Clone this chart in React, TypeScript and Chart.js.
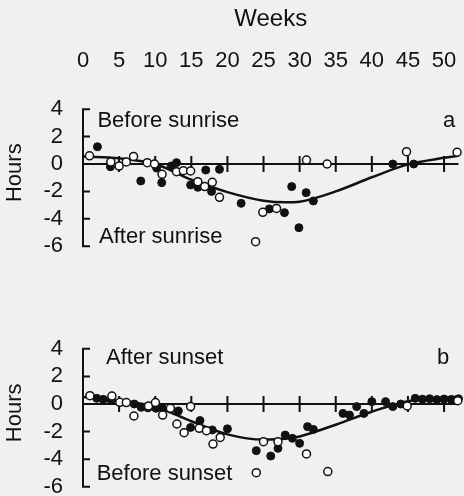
import React, { useEffect, useRef } from 'react';
import { Chart, registerables } from 'chart.js';

Chart.register(...registerables);

// ---------- data ----------
const WEEK_TICKS = [0, 5, 10, 15, 20, 25, 30, 35, 40, 45, 50];
const HOUR_TICKS = [4, 2, 0, -2, -4, -6];
const X_MIN = 0;
const X_MAX = 52;
const Y_MIN = -6;
const Y_MAX = 4;

// Panel a: sunrise
const SUNRISE_FILLED_WEEKS = [2.0, 3.8, 8.0, 10.2, 10.9, 12.2, 12.95, 14.9, 15.9, 17.0, 17.8, 18.9, 21.9, 25.8, 27.9, 28.9, 29.9, 30.9, 31.9, 42.9, 45.8];
const SUNRISE_FILLED_HOURS = [1.26, -0.2, -1.24, -0.3, -1.36, -0.15, 0.1, -1.53, -1.7, -0.44, -2.0, -0.39, -2.87, -3.28, -3.55, -1.65, -4.65, -2.09, -2.7, 0.0, 0.0];
const SUNRISE_OPEN_WEEKS = [0.9, 3.85, 5.0, 6.0, 7.0, 8.9, 9.9, 10.95, 12.95, 13.9, 14.9, 15.9, 16.85, 17.9, 18.9, 23.9, 24.9, 26.8, 30.95, 33.8, 44.8, 51.8];
const SUNRISE_OPEN_HOURS = [0.6, 0.15, -0.15, 0.15, 0.55, 0.1, 0.0, -0.75, -0.56, -0.49, -0.51, -1.29, -1.65, -1.34, -2.43, -5.67, -3.53, -3.24, 0.29, 0.0, 0.9, 0.85];
const SUNRISE_CURVE_WEEKS = [0, 5, 10, 15, 20, 25, 28, 30, 35, 40, 45, 50, 52];
const SUNRISE_CURVE_HOURS = [0.55, 0.42, 0.0, -1.15, -2.05, -2.68, -2.8, -2.75, -2.0, -0.97, -0.03, 0.45, 0.6];

// Panel b: sunset
const SUNSET_FILLED_WEEKS = [1.9, 2.8, 3.9, 7.1, 8.06, 9.0, 10.1, 11.0, 13.2, 14.9, 16.2, 17.9, 20.0, 24.0, 26.0, 27.0, 28.0, 29.0, 30.0, 31.1, 31.9, 36.0, 36.9, 37.9, 38.9, 40.0, 41.9, 42.9, 44.0, 46.0, 47.0, 48.0, 49.0, 50.0, 51.0, 52.0];
const SUNSET_FILLED_HOURS = [0.41, 0.34, 0.29, 0.0, -0.24, -0.28, -0.31, -0.31, -0.5, -1.7, -1.2, -1.88, -1.8, -3.38, -3.77, -3.21, -2.25, -2.49, -2.85, -1.64, -1.84, -0.68, -0.8, -0.19, -0.68, 0.17, 0.17, -0.19, 0.0, 0.41, 0.35, 0.38, 0.32, 0.36, 0.33, 0.38];
const SUNSET_OPEN_WEEKS = [0.96, 4.0, 5.1, 6.0, 7.05, 9.07, 10.03, 11.03, 12.1, 13.0, 14.0, 14.9, 16.1, 17.1, 18.0, 19.0, 24.0, 25.0, 27.0, 30.95, 33.9, 44.9, 51.9];
const SUNSET_OPEN_HOURS = [0.6, 0.58, 0.12, 0.1, -0.87, -0.14, 0.1, -0.8, -0.31, -1.45, -2.08, -0.19, -1.76, -1.93, -2.9, -2.42, -4.98, -2.73, -2.73, -3.62, -4.9, -0.14, 0.24];
const SUNSET_CURVE_WEEKS = [0, 5, 10, 15, 20, 25, 28, 30, 35, 40, 45, 50, 52];
const SUNSET_CURVE_HOURS = [0.5, 0.25, -0.2, -1.25, -2.2, -2.58, -2.52, -2.35, -1.5, -0.56, 0.2, 0.45, 0.53];

// ---------- style ----------
const INK = '#111111';
const FONT = "'Liberation Sans', Arial, Helvetica, sans-serif";
const BG = '#f0f0f0';

const pts = (ws: number[], hs: number[]) => ws.map((w, i) => ({ x: w, y: hs[i] }));

type Note = { text: string; dx: number; dy: number };

function framePlugin() {
  return {
    id: 'frame',
    beforeDatasetsDraw(chart: any) {
      const { ctx } = chart;
      const x = chart.scales.x;
      const y = chart.scales.y;
      const x0 = x.getPixelForValue(X_MIN);
      const x1 = x.getPixelForValue(X_MAX);
      const yT = y.getPixelForValue(Y_MAX);
      const yB = y.getPixelForValue(Y_MIN);
      const yZ = y.getPixelForValue(0);
      ctx.save();
      ctx.strokeStyle = INK;
      ctx.lineWidth = 2;
      ctx.beginPath();
      ctx.moveTo(x0, yT - 1);
      ctx.lineTo(x0, yB + 1);
      HOUR_TICKS.forEach((v) => {
        if (v !== 0) {
          const p = y.getPixelForValue(v);
          ctx.moveTo(x0 - 1, p);
          ctx.lineTo(x0 + 7, p);
        }
      });
      ctx.moveTo(x0, yZ);
      ctx.lineTo(x1, yZ);
      WEEK_TICKS.forEach((w) => {
        if (w > 0) {
          const p = x.getPixelForValue(w);
          ctx.moveTo(p, yZ - 8);
          ctx.lineTo(p, yZ + 8);
        }
      });
      ctx.stroke();
      ctx.restore();
    },
  };
}

function notesPlugin(notes: Note[]) {
  return {
    id: 'notes',
    afterDraw(chart: any) {
      const { ctx, chartArea } = chart;
      ctx.save();
      ctx.fillStyle = INK;
      ctx.font = `22px ${FONT}`;
      ctx.textAlign = 'left';
      ctx.textBaseline = 'alphabetic';
      notes.forEach((n) => ctx.fillText(n.text, chartArea.left + n.dx, chartArea.top + n.dy));
      ctx.translate(chartArea.left - 67.6, (chartArea.top + chartArea.bottom) / 2 - 5);
      ctx.rotate(-Math.PI / 2);
      ctx.textAlign = 'center';
      ctx.textBaseline = 'middle';
      ctx.fillText('Hours', 0, 0);
      ctx.restore();
    },
  };
}

type PanelProps = {
  top: number;
  height: number;
  showWeeks: boolean;
  padTop: number;
  padBottom: number;
  filled: { x: number; y: number }[];
  open: { x: number; y: number }[];
  curve: { x: number; y: number }[];
  notes: Note[];
};

function Panel(props: PanelProps) {
  const ref = useRef<HTMLCanvasElement | null>(null);
  useEffect(() => {
    if (!ref.current) return;
    const chart = new Chart(ref.current, {
      type: 'scatter',
      data: {
        datasets: [
          {
            data: props.open,
            pointRadius: 4,
            pointBackgroundColor: '#ffffff',
            pointBorderColor: INK,
            pointBorderWidth: 1.5,
            showLine: false,
            clip: false,
          },
          {
            data: props.filled,
            pointRadius: 4,
            pointBackgroundColor: INK,
            pointBorderColor: INK,
            pointBorderWidth: 1,
            showLine: false,
            clip: false,
          },
          {
            data: props.curve,
            showLine: true,
            pointRadius: 0,
            borderColor: INK,
            borderWidth: 2.5,
            cubicInterpolationMode: 'monotone',
            fill: false,
            clip: false,
          },
        ] as any,
      },
      options: {
        animation: false,
        responsive: false,
        devicePixelRatio: 1,
        events: [],
        layout: { padding: { top: props.padTop, left: 0, right: 2.4, bottom: props.padBottom } },
        plugins: { legend: { display: false }, tooltip: { enabled: false }, title: { display: false } },
        scales: {
          x: {
            type: 'linear',
            min: X_MIN,
            max: X_MAX,
            position: 'top',
            display: props.showWeeks,
            grid: { display: false, drawTicks: false },
            border: { display: false },
            ticks: { font: { size: 22, family: FONT }, color: INK, padding: 35, maxRotation: 0, autoSkip: false },
            title: {
              display: true,
              text: 'Weeks',
              font: { size: 24, family: FONT },
              color: INK,
              padding: { top: 4.6, bottom: 0 },
            },
            afterBuildTicks: (s: any) => {
              s.ticks = WEEK_TICKS.map((v) => ({ value: v }));
            },
            afterFit: (s: any) => {
              s.paddingLeft = 0;
              s.paddingRight = 0;
              s.paddingTop = 0;
              s.paddingBottom = 0;
              if (props.showWeeks) s.height = 109.2;
            },
          },
          y: {
            type: 'linear',
            min: Y_MIN,
            max: Y_MAX,
            grid: { display: false, drawTicks: false },
            border: { display: false },
            ticks: { font: { size: 22, family: FONT }, color: INK, padding: 20, autoSkip: false },
            afterBuildTicks: (s: any) => {
              s.ticks = HOUR_TICKS.map((v) => ({ value: v }));
            },
            afterFit: (s: any) => {
              s.paddingLeft = 0;
              s.paddingRight = 0;
              s.paddingTop = 0;
              s.paddingBottom = 0;
              s.width = 83;
            },
          },
        },
      } as any,
      plugins: [framePlugin(), notesPlugin(props.notes)],
    });
    return () => chart.destroy();
  }, []);
  return (
    <canvas
      ref={ref}
      width={464}
      height={props.height}
      style={{ position: 'absolute', left: 0, top: props.top, width: 464, height: props.height }}
    />
  );
}

export default function App() {
  return (
    <div style={{ position: 'fixed', left: 0, top: 0, width: 464, height: 496, background: BG, overflow: 'hidden' }}>
      <Panel
        top={0}
        height={260}
        showWeeks={true}
        padTop={0}
        padBottom={13.8}
        filled={pts(SUNRISE_FILLED_WEEKS, SUNRISE_FILLED_HOURS)}
        open={pts(SUNRISE_OPEN_WEEKS, SUNRISE_OPEN_HOURS)}
        curve={pts(SUNRISE_CURVE_WEEKS, SUNRISE_CURVE_HOURS)}
        notes={[
          { text: 'Before sunrise', dx: 14.4, dy: 17.8 },
          { text: 'After sunrise', dx: 16, dy: 134.1 },
          { text: 'a', dx: 360, dy: 17.8 },
        ]}
      />
      <Panel
        top={260}
        height={236}
        showWeeks={false}
        padTop={88.8}
        padBottom={9.2}
        filled={pts(SUNSET_FILLED_WEEKS, SUNSET_FILLED_HOURS)}
        open={pts(SUNSET_OPEN_WEEKS, SUNSET_OPEN_HOURS)}
        curve={pts(SUNSET_CURVE_WEEKS, SUNSET_CURVE_HOURS)}
        notes={[
          { text: 'After sunset', dx: 23, dy: 15.5 },
          { text: 'b', dx: 354, dy: 15.5 },
          { text: 'Before sunset', dx: 13.7, dy: 131.2 },
        ]}
      />
    </div>
  );
}
